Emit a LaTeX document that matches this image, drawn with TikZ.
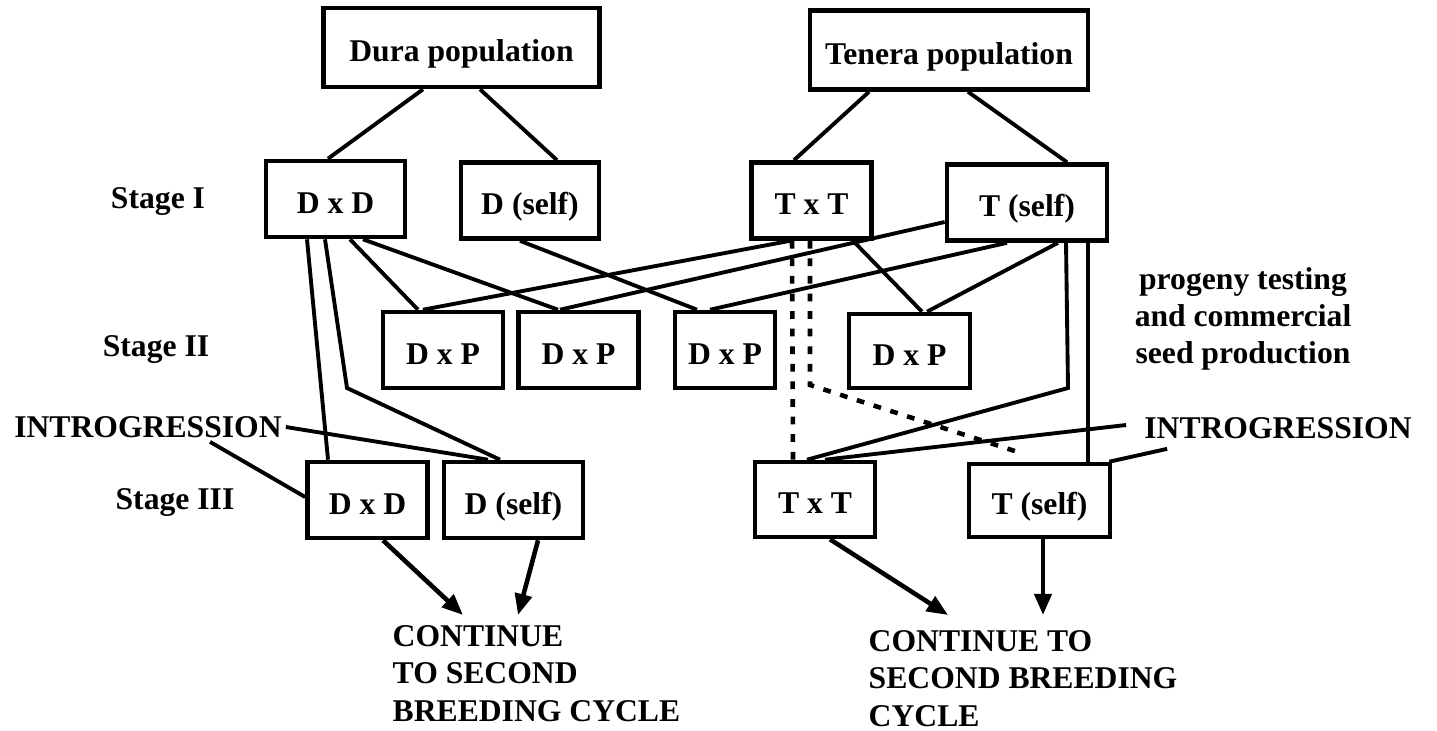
\documentclass[tikz,border=0pt]{standalone}
\usepackage{fontspec}
\setmainfont{Liberation Serif}
\usetikzlibrary{arrows.meta,calc}

\begin{document}
\begin{tikzpicture}[
    x=0.01cm, y=-0.01cm,
    every node/.style={font=\fontsize{9}{10.6}\selectfont\bfseries},
    box/.style={rectangle, draw=black, line width=1.3pt, inner sep=0pt, minimum width=1.2cm, minimum height=0.76cm, text height=0.9em, text depth=0.1em},
    popbox/.style={box, minimum width=2.76cm, minimum height=0.79cm},
    label/.style={inner sep=1pt},
    note/.style={inner sep=0pt, align=left},
    link/.style={line width=1.1pt},
    dotlink/.style={line width=1.3pt, dash pattern=on 2.2pt off 2.8pt},
    arrow/.style={-{Triangle[length=6pt,width=4.8pt]}, line width=1.3pt}
]
\useasboundingbox (0,0) rectangle (1437,730);

% Populations
\node[popbox] (dura) at (461.5,47.5) {Dura population};
\node[popbox, minimum width=2.78cm] (tenera) at (949,50) {Tenera population};

% Stage I
\node[label] (stage1) at (158,202) {Stage I};
\node[box, minimum width=1.39cm] (dxd1) at (335.5,199) {D x D};
\node[box, minimum width=1.38cm] (dself1) at (530,200.5) {D (self)};
\node[box] (txt1) at (811.5,200.5) {T x T};
\node[box, minimum width=1.6cm] (tself1) at (1027,202.5) {T (self)};

% Stage II
\node[label] (stage2) at (156,350) {Stage II};
\node[box] (dxp1) at (443,350) {D x P};
\node[box] (dxp2) at (578.5,350) {D x P};
\node[box, minimum width=1cm] (dxp3) at (725,350) {D x P};
\node[box, minimum width=1.21cm, minimum height=0.74cm] (dxp4) at (909.5,351) {D x P};
\node[note, align=center] (progeny) at (1243,319) {progeny testing\\and commercial\\seed production};

% Stage III
\node[label] (introL) at (148,427) {INTROGRESSION};
\node[label] (introR) at (1278,428) {INTROGRESSION};
\node[label] (stage3) at (175,503) {Stage III};
\node[box] (dxd3) at (367.5,500) {D x D};
\node[box, minimum width=1.39cm] (dself3) at (513.5,500) {D (self)};
\node[box, minimum height=0.75cm] (txt3) at (815,499.5) {T x T};
\node[box, minimum width=1.41cm, minimum height=0.73cm] (tself3) at (1039.5,500.5) {T (self)};

% Next cycle
\node[note, anchor=north west] (cont1) at (392,625) {CONTINUE\\TO SECOND\\BREEDING CYCLE};
\node[note, anchor=north west] (cont2) at (868,630) {CONTINUE TO\\SECOND BREEDING\\CYCLE};

% Bends
\coordinate (kinkD) at (347,388);
\coordinate (kinkT) at (1068,388);
\coordinate (kinkDot) at (810,385);

% Populations -> Stage I
\draw[link] ($(dura.south)+(-38.5,0)$) -- ($(dxd1.north)+(-7.5,0)$);
\draw[link] ($(dura.south)+(18.5,0)$) -- ($(dself1.north)+(27,0)$);
\draw[link] ($(tenera.south)+(-80,0)$) -- ($(txt1.north)+(-17.5,0)$);
\draw[link] ($(tenera.south)+(19,0)$) -- ($(tself1.north)+(40,0)$);

% Stage I -> Stage II
\draw[link] ($(dxd1.south)+(14.5,0)$) -- ($(dxp1.north)+(-25,0)$);
\draw[link] ($(dxd1.south)+(27.5,0)$) -- ($(dxp2.north)+(-20.5,0)$);
\draw[link] ($(dself1.south)+(-10,0)$) -- ($(dxp3.north)+(-28,0)$);
\draw[link] ($(txt1.south)+(-21.5,0)$) -- ($(dxp1.north)+(-20,0)$);
\draw[link] ($(tself1.west)+(0,19.5)$) -- ($(dxp2.north)+(-18.5,0)$);
\draw[link] ($(tself1.south)+(-20,0)$) -- ($(dxp3.north)+(-15,0)$);
\draw[link] ($(txt1.south)+(41.5,0)$) -- ($(dxp4.north)+(12.5,0)$);
\draw[link] ($(tself1.south)+(31,0)$) -- ($(dxp4.north)+(17.5,0)$);

% Stage I -> Stage III
\draw[link] ($(dxd1.south)+(-28.5,0)$) -- ($(dxd3.north)+(-39.5,0)$);
\draw[link] ($(dxd1.south)+(-10.5,0)$) -- (kinkD) -- ($(dself3.north)+(-13.5,0)$);
\draw[link] ($(tself1.south)+(39,0)$) -- (kinkT) -- ($(txt3.north)+(-8,0)$);
\draw[link] ($(tself1.south)+(61,0)$) -- ($(tself3.north)+(48.5,0)$);
\draw[dotlink] ($(txt1.south)+(-19.5,0)$) -- ($(txt3.north)+(-22,0)$);
\draw[dotlink] ($(txt1.south)+(-1.5,0)$) -- (kinkDot) -- ($(tself3.north)+(-19.5,-9)$);

% Introgression
\draw[link] (introL.east) -- ($(dself3.north)+(-25.5,0)$);
\draw[link] ($(introL.south)+(62,0)$) -- ($(dxd3.west)+(0,-3)$);
\draw[link] ($(introR.west)+(-14,-3)$) -- ($(txt3.north)+(10,0)$);
\draw[link] ($(introR.south west)+(27,6)$) -- ($(tself3.north east)+(-3,0)$);

% Stage III -> next cycle
\draw[arrow] ($(dxd3.south)+(15.5,0)$) -- ($(cont1.north west)+(71,-10)$);
\draw[arrow] ($(dself3.south)+(24.5,0)$) -- ($(cont1.north west)+(126,-10)$);
\draw[arrow] ($(txt3.south)+(15,0)$) -- ($(cont2.north west)+(80,-15)$);
\draw[arrow] ($(tself3.south)+(3.5,0)$) -- ($(cont2.north west)+(175,-15)$);

\end{tikzpicture}
\end{document}
